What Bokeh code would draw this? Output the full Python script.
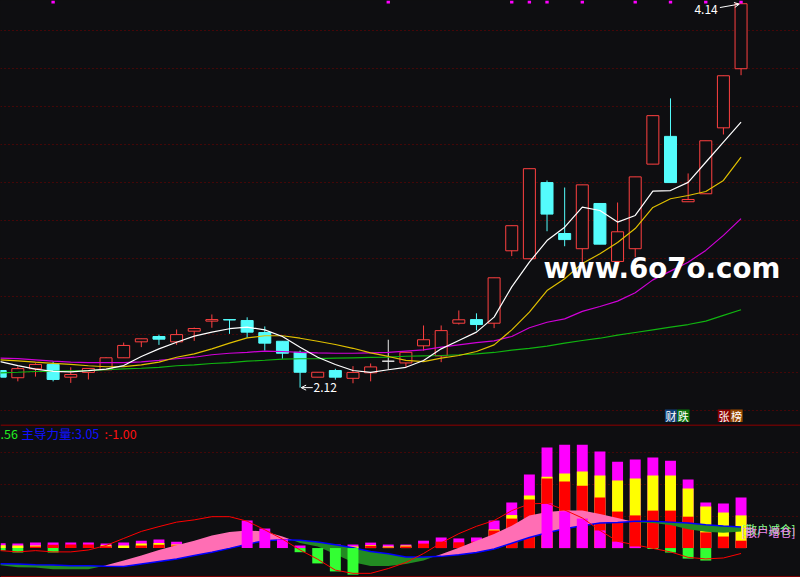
import numpy as np
from bokeh.plotting import figure
from bokeh.layouts import column
from bokeh.models import Range1d, FixedTicker, Grid, Span, Label, Arrow, OpenHead
from bokeh.core.properties import value
from bokeh.embed import file_html
from bokeh.resources import INLINE

# ---------------- data ----------------
days = list(range(43))
opens = [2.210, 2.172, 2.219, 2.242, 2.175, 2.200, 2.214, 2.277, 2.361, 2.389,
         2.361, 2.417, 2.470, 2.478, 2.473, 2.410, 2.364, 2.306, 2.175, 2.210,
         2.169, 2.198, 2.259, 2.250, 2.340, 2.287, 2.459, 2.478, 2.459, 2.840,
         2.798, 3.199, 2.931, 2.851, 3.089, 2.784, 2.851, 3.296, 3.442, 3.098,
         3.140, 3.487, 3.798]
highs = [2.212, 2.231, 2.248, 2.257, 2.227, 2.221, 2.280, 2.357, 2.377, 2.399,
         2.426, 2.436, 2.505, 2.478, 2.490, 2.442, 2.364, 2.315, 2.201, 2.219,
         2.233, 2.247, 2.372, 2.306, 2.447, 2.447, 2.526, 2.511, 2.698, 2.972,
         3.272, 3.210, 3.173, 3.187, 3.089, 3.094, 3.229, 3.551, 3.642, 3.247,
         3.419, 3.761, 4.140]
lows = [2.175, 2.153, 2.178, 2.153, 2.145, 2.163, 2.214, 2.277, 2.333, 2.345,
        2.345, 2.366, 2.435, 2.403, 2.382, 2.315, 2.272, 2.120, 2.175, 2.162,
        2.143, 2.153, 2.215, 2.224, 2.315, 2.254, 2.452, 2.421, 2.433, 2.812,
        2.798, 2.943, 2.864, 2.780, 2.875, 2.780, 2.806, 3.296, 3.199, 3.098,
        3.140, 3.452, 3.764]
closes = [2.175, 2.220, 2.242, 2.163, 2.189, 2.221, 2.277, 2.342, 2.377, 2.375,
          2.399, 2.431, 2.478, 2.476, 2.412, 2.354, 2.301, 2.201, 2.201, 2.175,
          2.200, 2.229, 2.259, 2.306, 2.372, 2.420, 2.477, 2.452, 2.698, 2.972,
          3.272, 3.033, 2.899, 3.187, 2.875, 2.940, 3.229, 3.551, 3.199, 3.110,
          3.419, 3.761, 4.140]

ma5 = [2.257, 2.236, 2.217, 2.206, 2.203, 2.209, 2.217, 2.236, 2.284, 2.324,
       2.359, 2.391, 2.412, 2.430, 2.438, 2.424, 2.389, 2.333, 2.280, 2.242,
       2.210, 2.200, 2.214, 2.227, 2.263, 2.324, 2.368, 2.412, 2.491, 2.650,
       2.780, 2.894, 2.964, 3.070, 3.052, 2.991, 3.026, 3.154, 3.157, 3.200,
       3.306, 3.412, 3.517]
ma10 = [2.266, 2.261, 2.254, 2.248, 2.242, 2.235, 2.230, 2.231, 2.240, 2.254,
        2.280, 2.298, 2.324, 2.354, 2.382, 2.393, 2.393, 2.380, 2.364, 2.347,
        2.327, 2.303, 2.284, 2.263, 2.257, 2.275, 2.289, 2.310, 2.345, 2.424,
        2.517, 2.631, 2.693, 2.773, 2.824, 2.884, 2.957, 3.068, 3.114, 3.131,
        3.152, 3.210, 3.333]
ma20 = [2.275, 2.273, 2.266, 2.259, 2.254, 2.252, 2.252, 2.252, 2.256, 2.263,
        2.272, 2.280, 2.293, 2.301, 2.306, 2.312, 2.310, 2.306, 2.303, 2.301,
        2.301, 2.303, 2.305, 2.312, 2.319, 2.333, 2.345, 2.357, 2.366, 2.389,
        2.435, 2.464, 2.482, 2.521, 2.547, 2.575, 2.619, 2.687, 2.733, 2.780,
        2.842, 2.921, 3.009]
ma60 = [2.198, 2.201, 2.205, 2.206, 2.208, 2.210, 2.214, 2.219, 2.222, 2.227,
        2.235, 2.240, 2.247, 2.252, 2.259, 2.264, 2.270, 2.272, 2.273, 2.275,
        2.277, 2.279, 2.280, 2.285, 2.287, 2.289, 2.293, 2.298, 2.305, 2.317,
        2.327, 2.338, 2.354, 2.368, 2.380, 2.396, 2.410, 2.424, 2.438, 2.452,
        2.470, 2.500, 2.530]

signal_days = [3, 22, 29, 30, 31, 33, 36, 38, 40, 42]
price_grid = [2.0, 2.2, 2.4, 2.6, 2.8, 3.0, 3.2, 3.4, 3.6, 3.8, 4.0]
low_label, high_label = "2.12", "4.14"
low_day, high_day = 17, 42
badge_chars = ["财", "跌", "张", "榜"]
badge_pos = [38.03, 38.73, 41.03, 41.74]
badge_colors = ["#12417a", "#0a700a", "#8a0000", "#984800"]

# indicator panel
bar_magenta = [0.15, 0.14, 0.17, 0.17, 0.17, 0.17, 0.14, 0.17, 0.23, 0.27,
               0.20, 0, 0, 0, 0, 0, 0, 0.08, 0, 0.11,
               0.11, 0.17, 0.11, 0.11, 0.23, 0.33, 0.30, 0.33, 0.86, 1.42,
               2.30, 3.14, 3.23, 3.23, 3.02, 2.70, 2.77, 2.83, 2.73, 2.14,
               1.42, 1.39, 1.58]
bar_yellow = [0.09, 0.08, 0.08, 0, 0, 0, 0.09, 0.08, 0.14, 0.16,
              0.11, 0, 0, 0, 0, 0, 0, 0, 0, 0,
              0.05, 0.09, 0.05, 0.08, 0, 0, 0, 0, 0.58, 1.03,
              1.64, 2.23, 2.33, 2.39, 2.27, 2.11, 2.17, 2.27, 2.27, 1.86,
              1.30, 1.11, 1.02]
bar_red = [0, 0, 0.05, 0.10, 0.11, 0.11, 0.06, 0, 0.08, 0.10,
           0.08, 0, 0, 0, 0, 0, 0, 0, 0, 0,
           0, 0.07, 0.02, 0.05, 0.14, 0.20, 0.18, 0.20, 0.55, 0.92,
           1.52, 2.17, 2.08, 1.95, 1.58, 1.14, 1.02, 1.17, 1.17, 0.98,
           0.49, 0.36, 0.23]
bar_magenta_low = [0, 0, 0, 0, 0, 0, 0, 0, 0, 0,
                   0, 0, 0, 0, 0.86, 0.61, 0.27, 0, 0, 0,
                   0, 0, 0, 0, 0, 0, 0, 0, 0, 0,
                   0, 1.39, 1.15, 0.92, 0.55, 0.20, 0.05, 0, 0, 0,
                   0, 0, 0]
bar_green = [-0.08, -0.14, 0, -0.14, 0, 0, 0, 0, 0, 0,
             0, 0, 0, 0, 0, 0, 0, -0.13, -0.48, -0.73,
             -0.83, 0, 0, 0, 0, 0, 0, 0, 0, 0,
             0, 0, 0, 0, 0, 0, 0, -0.03, -0.14, -0.33,
             -0.39, 0, 0]
curve_a = [-0.54, -0.60, -0.61, -0.66, -0.66, -0.66, -0.54, -0.39, -0.23, -0.06,
           0.09, 0.23, 0.39, 0.50, 0.55, 0.52, 0.36, 0.16, 0.05, -0.19,
           -0.44, -0.56, -0.56, -0.50, -0.39, -0.19, 0.01, 0.23, 0.44, 0.70,
           1.02, 1.13, 1.17, 1.17, 1.06, 0.94, 0.81, 0.78, 0.72, 0.59,
           0.51, 0.48, 0.52]
curve_b = [-0.49, -0.50, -0.52, -0.53, -0.55, -0.55, -0.57, -0.58, -0.50, -0.42,
           -0.34, -0.23, -0.13, -0.01, 0.12, 0.23, 0.26, 0.24, 0.19, 0.10,
           0.01, -0.11, -0.18, -0.28, -0.28, -0.26, -0.21, -0.14, -0.03, 0.15,
           0.33, 0.48, 0.60, 0.70, 0.78, 0.80, 0.84, 0.84, 0.81, 0.78,
           0.73, 0.69, 0.66]
curve_c = [-0.08, -0.12, -0.08, -0.12, -0.12, -0.06, 0.08, 0.30, 0.52, 0.67,
           0.81, 0.88, 0.98, 0.98, 0.84, 0.57, 0.28, -0.06, -0.35, -0.69,
           -0.79, -0.79, -0.64, -0.45, -0.17, 0.16, 0.45, 0.68, 0.86, 1.17,
           1.38, 1.40, 1.19, 0.94, 0.55, 0.21, 0.10, -0.01, -0.12, -0.29,
           -0.34, -0.31, -0.17]
ind_grid = [1, 2, 3]
header_parts = [(".56", "#22f022"), ("主导力量:3.05", "#1010ff"), (":-1.00", "#ff1010")]
right_texts = [("[散户减仓]", "#88ff88"), ("[散户增仓]", "#ee88ee")]

# ---------------- styling ----------------
BG = "#0e0e11"
GRID = "#7a0000"
UP = "#ff4040"
DOWN = "#54fcfc"
CJK = "Noto Sans CJK SC"
W, H_MAIN, H_SUB = 800, 424, 153

xr = Range1d(0.017, 45.37)


def base_fig(height, yr):
    f = figure(width=W, height=height, x_range=xr, y_range=yr,
               output_backend="svg", toolbar_location=None, x_axis_location=None,
               y_axis_location=None, background_fill_color=BG, border_fill_color=BG,
               min_border=0, outline_line_color=None)
    f.xgrid.visible = False
    f.ygrid.visible = False
    f.renderers = [r for r in f.renderers if not isinstance(r, Grid)]
    f.center = [c for c in f.center if not isinstance(c, Grid)]
    return f


p = base_fig(H_MAIN, Range1d(1.926, 4.157))
p.add_layout(Grid(dimension=1, ticker=FixedTicker(ticks=price_grid),
                  grid_line_color=GRID, grid_line_dash="1 3", grid_line_width=1))

col = []
for o, c in zip(opens, closes):
    col.append(UP if c > o else (DOWN if c < o else "#e8e8e8"))
fills = [BG if cc == UP else cc for cc in col]
tops = [max(o, c) for o, c in zip(opens, closes)]
bots = [min(o, c) for o, c in zip(opens, closes)]

p.segment(x0=days, y0=lows, x1=days, y1=highs, line_color=col, line_width=1)
p.vbar(x=days, width=0.68, top=tops, bottom=bots, fill_color=fills, line_color=col, line_width=1)

p.line(days, ma60, line_color="#10b410", line_width=1.2)
p.line(days, ma20, line_color="#d000d8", line_width=1.2)
p.line(days, ma10, line_color="#e0c000", line_width=1.2)
p.line(days, ma5, line_color="#ffffff", line_width=1.2)

# signal marks on top edge
p.rect(x=signal_days, y=4.149, width=0.19, height=0.016, fill_color="#ff00ff", line_color=None)

# low / high annotations
p.add_layout(Arrow(end=OpenHead(size=5, line_color="white", line_width=1),
                   x_start=low_day + 0.72, y_start=lows[low_day], x_end=low_day + 0.06,
                   y_end=lows[low_day], line_color="white", line_width=1))
p.add_layout(Label(x=low_day + 0.76, y=lows[low_day], text=low_label, text_color="white",
                   text_font=CJK, text_font_size="12px", text_baseline="middle"))
p.add_layout(Arrow(end=OpenHead(size=5, line_color="white", line_width=1),
                   x_start=high_day - 1.2, y_start=highs[high_day] - 0.02,
                   x_end=high_day - 0.1, y_end=highs[high_day] - 0.002,
                   line_color="white", line_width=1))
p.add_layout(Label(x=high_day - 1.32, y=highs[high_day] - 0.028, text=high_label,
                   text_color="white", text_font=CJK, text_font_size="12px",
                   text_align="right", text_baseline="middle"))

# watermark
p.add_layout(Label(x=30.8, y=2.745, text="www.6o7o.com", text_color="white",
                   text_font="DejaVu Sans", text_font_style="bold", text_font_size="27.7px",
                   text_baseline="middle"))

# badges
p.rect(x=badge_pos, y=1.972, width=0.70, height=0.066, fill_color=badge_colors, line_color=None)
p.text(x=badge_pos, y=[1.972] * 4, text=badge_chars, text_color="white",
       text_font=value(CJK), text_font_size="11px", text_align="center", text_baseline="middle")

# ---------------- indicator panel ----------------
q = base_fig(H_SUB, Range1d(-0.92, 3.86))
q.add_layout(Grid(dimension=1, ticker=FixedTicker(ticks=ind_grid),
                  grid_line_color=GRID, grid_line_dash="1 3", grid_line_width=1))
q.add_layout(Span(location=3.845, dimension="width", line_color="#800000", line_width=1.5))
q.add_layout(Span(location=-0.895, dimension="width", line_color="#800000", line_width=1.5))

BW = 0.62
q.vbar(x=days, width=BW, bottom=0, top=bar_magenta, fill_color="#ff00ff", line_color=None)
q.vbar(x=days, width=BW, bottom=0, top=bar_yellow, fill_color="#ffff00", line_color=None)
q.vbar(x=days, width=BW, bottom=0, top=bar_red, fill_color="#ff0000", line_color=None)

# band between curve_a and curve_b, split at crossings
xa = np.array(days, dtype=float)
ca = np.array(curve_a)
cb = np.array(curve_b)
bx, ba, bb = [xa[0]], [ca[0]], [cb[0]]
for k in range(1, len(xa)):
    d0 = ca[k - 1] - cb[k - 1]
    d1 = ca[k] - cb[k]
    if d0 * d1 < 0:
        t = d0 / (d0 - d1)
        xc = xa[k - 1] + t * (xa[k] - xa[k - 1])
        yc = cb[k - 1] + t * (cb[k] - cb[k - 1])
        bx.append(xc); ba.append(yc); bb.append(yc)
    bx.append(xa[k]); ba.append(ca[k]); bb.append(cb[k])
ba = np.array(ba); bb = np.array(bb)
q.varea(x=bx, y1=bb, y2=np.maximum(ba, bb), fill_color="#ff6eb4")
q.varea(x=bx, y1=np.minimum(ba, bb), y2=bb, fill_color="#228b22")
q.line(days, curve_b, line_color="#0000ff", line_width=1.5)

q.vbar(x=days, width=BW, bottom=0, top=bar_magenta_low, fill_color="#ff00ff", line_color=None)
q.vbar(x=days, width=BW, bottom=bar_green, top=0, fill_color="#33ff33", line_color=None)
q.line(days, curve_c, line_color="#ff0000", line_width=1)

hx = [0, 21, 104]
for (txt, cl), xx in zip(header_parts, hx):
    q.add_layout(Label(x=xx, y=144, x_units="screen", y_units="screen", text=txt,
                       text_color=cl, text_font=CJK, text_font_size="12.5px",
                       text_baseline="middle"))
for (txt, cl), yy in zip(right_texts, [49, 45.5]):
    q.add_layout(Label(x=741, y=yy, x_units="screen", y_units="screen", text=txt,
                       text_color=cl, text_font=CJK, text_font_size="11.5px",
                       text_baseline="middle"))

layout = column(p, q, spacing=0)
html = file_html(layout, INLINE)
html = html.replace("<body>", '<body style="background-color:#0e0e11;">')
open("out.html", "w").write(html)
